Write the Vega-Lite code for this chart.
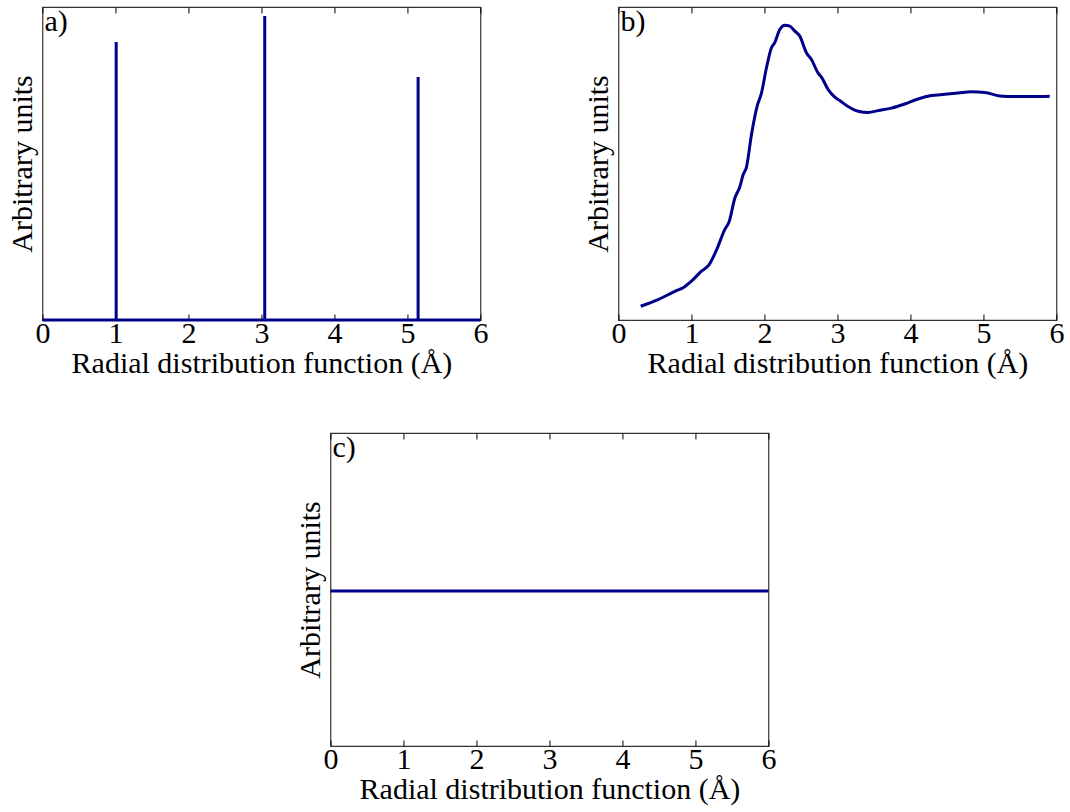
{
  "$schema": "https://vega.github.io/schema/vega-lite/v6.json",
  "padding": {"left": 6, "top": 5, "right": 5, "bottom": 5},
  "background": "white",
  "datasets": {
    "a": [
      {"i": 0, "r": 0, "g": 0},
      {"i": 1, "r": 1.01, "g": 0},
      {"i": 2, "r": 1.01, "g": 0.888},
      {"i": 3, "r": 1.01, "g": 0},
      {"i": 4, "r": 3.045, "g": 0},
      {"i": 5, "r": 3.045, "g": 0.971},
      {"i": 6, "r": 3.045, "g": 0},
      {"i": 7, "r": 5.146, "g": 0},
      {"i": 8, "r": 5.146, "g": 0.776},
      {"i": 9, "r": 5.146, "g": 0},
      {"i": 10, "r": 6, "g": 0}
    ],
    "b": [
      {"r": 0.305, "g": 0.044},
      {"r": 0.543, "g": 0.065},
      {"r": 0.795, "g": 0.094},
      {"r": 0.886, "g": 0.103},
      {"r": 1.0, "g": 0.124},
      {"r": 1.137, "g": 0.156},
      {"r": 1.237, "g": 0.175},
      {"r": 1.342, "g": 0.223},
      {"r": 1.456, "g": 0.289},
      {"r": 1.516, "g": 0.314},
      {"r": 1.594, "g": 0.389},
      {"r": 1.662, "g": 0.425},
      {"r": 1.708, "g": 0.464},
      {"r": 1.753, "g": 0.488},
      {"r": 1.822, "g": 0.592},
      {"r": 1.9, "g": 0.683},
      {"r": 1.959, "g": 0.725},
      {"r": 2.027, "g": 0.805},
      {"r": 2.096, "g": 0.87},
      {"r": 2.141, "g": 0.886},
      {"r": 2.21, "g": 0.928},
      {"r": 2.279, "g": 0.942},
      {"r": 2.347, "g": 0.939},
      {"r": 2.416, "g": 0.923},
      {"r": 2.484, "g": 0.907},
      {"r": 2.575, "g": 0.854},
      {"r": 2.644, "g": 0.832},
      {"r": 2.735, "g": 0.789},
      {"r": 2.781, "g": 0.776},
      {"r": 2.873, "g": 0.736},
      {"r": 2.964, "g": 0.712},
      {"r": 3.032, "g": 0.701},
      {"r": 3.146, "g": 0.682},
      {"r": 3.284, "g": 0.667},
      {"r": 3.421, "g": 0.663},
      {"r": 3.557, "g": 0.669},
      {"r": 3.74, "g": 0.677},
      {"r": 3.922, "g": 0.69},
      {"r": 4.105, "g": 0.706},
      {"r": 4.288, "g": 0.717},
      {"r": 4.47, "g": 0.721},
      {"r": 4.653, "g": 0.725},
      {"r": 4.836, "g": 0.729},
      {"r": 5.018, "g": 0.727},
      {"r": 5.223, "g": 0.716},
      {"r": 5.429, "g": 0.714},
      {"r": 5.703, "g": 0.714},
      {"r": 5.908, "g": 0.715}
    ],
    "c": [
      {"r": 0, "g": 0.495},
      {"r": 6, "g": 0.495}
    ],
    "la": [{"label": "a)"}],
    "lb": [{"label": "b)"}],
    "lc": [{"label": "c)"}]
  },
  "config": {
    "font": "Liberation Serif",
    "view": {"stroke": "#333333", "strokeWidth": 1.2},
    "axis": {
      "labelFont": "Liberation Serif",
      "titleFont": "Liberation Serif",
      "labelFontSize": 30,
      "titleFontSize": 30,
      "labelColor": "#000000",
      "titleColor": "#000000",
      "titleFontWeight": "normal",
      "labelFlush": false,
      "labelOverlap": false,
      "grid": false,
      "domain": false
    },
    "concat": {"spacing": 93}
  },
  "vconcat": [
    {
      "hconcat": [
        {
          "width": 438,
          "height": 313,
          "layer": [
            {
              "data": {"name": "a"},
              "mark": {"type": "line", "color": "#00008b", "strokeWidth": 3, "interpolate": "linear"},
              "encoding": {
                "x": {"field": "r", "type": "quantitative", "scale": {"domain": [0, 6], "nice": false}, "axis": {"orient": "bottom", "values": [0, 1, 2, 3, 4, 5, 6], "tickSize": -6, "tickColor": "#000000", "labelPadding": 4, "titlePadding": 0, "title": "Radial distribution function (Å)"}},
                "y": {"field": "g", "type": "quantitative", "scale": {"domain": [0, 1], "nice": false}, "axis": {"labels": false, "ticks": false, "title": "Arbitrary units", "titlePadding": 5}},
                "order": {"field": "i"}
              }
            },
            {
              "data": {"name": "la"},
              "mark": {"type": "text", "align": "left", "baseline": "top", "dx": 2, "dy": 0, "fontSize": 30, "font": "Liberation Serif", "color": "#000000"},
              "encoding": {
                "x": {"datum": 0, "type": "quantitative", "axis": {"orient": "top", "values": [0, 1, 2, 3, 4, 5, 6], "tickSize": -6, "tickColor": "#000000", "labels": false, "title": null}},
                "y": {"datum": 1, "type": "quantitative"},
                "text": {"field": "label"}
              }
            }
          ],
          "resolve": {"axis": {"x": "independent"}}
        },
        {
          "width": 438,
          "height": 313,
          "layer": [
            {
              "data": {"name": "b"},
              "mark": {"type": "line", "color": "#00008b", "strokeWidth": 3, "interpolate": "monotone"},
              "encoding": {
                "x": {"field": "r", "type": "quantitative", "scale": {"domain": [0, 6], "nice": false}, "axis": {"orient": "bottom", "values": [0, 1, 2, 3, 4, 5, 6], "tickSize": -6, "tickColor": "#000000", "labelPadding": 4, "titlePadding": 0, "title": "Radial distribution function (Å)"}},
                "y": {"field": "g", "type": "quantitative", "scale": {"domain": [0, 1], "nice": false}, "axis": {"labels": false, "ticks": false, "title": "Arbitrary units", "titlePadding": 5}}
              }
            },
            {
              "data": {"name": "lb"},
              "mark": {"type": "text", "align": "left", "baseline": "top", "dx": 2, "dy": 0, "fontSize": 30, "font": "Liberation Serif", "color": "#000000"},
              "encoding": {
                "x": {"datum": 0, "type": "quantitative", "axis": {"orient": "top", "values": [0, 1, 2, 3, 4, 5, 6], "tickSize": -6, "tickColor": "#000000", "labels": false, "title": null}},
                "y": {"datum": 1, "type": "quantitative"},
                "text": {"field": "label"}
              }
            }
          ],
          "resolve": {"axis": {"x": "independent"}}
        }
      ]
    },
    {
      "width": 438,
      "height": 313,
      "layer": [
        {
          "data": {"name": "c"},
          "mark": {"type": "line", "color": "#00008b", "strokeWidth": 3},
          "encoding": {
            "x": {"field": "r", "type": "quantitative", "scale": {"domain": [0, 6], "nice": false}, "axis": {"orient": "bottom", "values": [0, 1, 2, 3, 4, 5, 6], "tickSize": -6, "tickColor": "#000000", "labelPadding": 4, "titlePadding": 0, "title": "Radial distribution function (Å)"}},
            "y": {"field": "g", "type": "quantitative", "scale": {"domain": [0, 1], "nice": false}, "axis": {"labels": false, "ticks": false, "title": "Arbitrary units", "titlePadding": 5}}
          }
        },
        {
          "data": {"name": "lc"},
          "mark": {"type": "text", "align": "left", "baseline": "top", "dx": 2, "dy": 0, "fontSize": 30, "font": "Liberation Serif", "color": "#000000"},
          "encoding": {
            "x": {"datum": 0, "type": "quantitative", "axis": {"orient": "top", "values": [0, 1, 2, 3, 4, 5, 6], "tickSize": -6, "tickColor": "#000000", "labels": false, "title": null}},
            "y": {"datum": 1, "type": "quantitative"},
            "text": {"field": "label"}
          }
        }
      ],
      "resolve": {"axis": {"x": "independent"}}
    }
  ],
  "spacing": 52,
  "center": true
}
